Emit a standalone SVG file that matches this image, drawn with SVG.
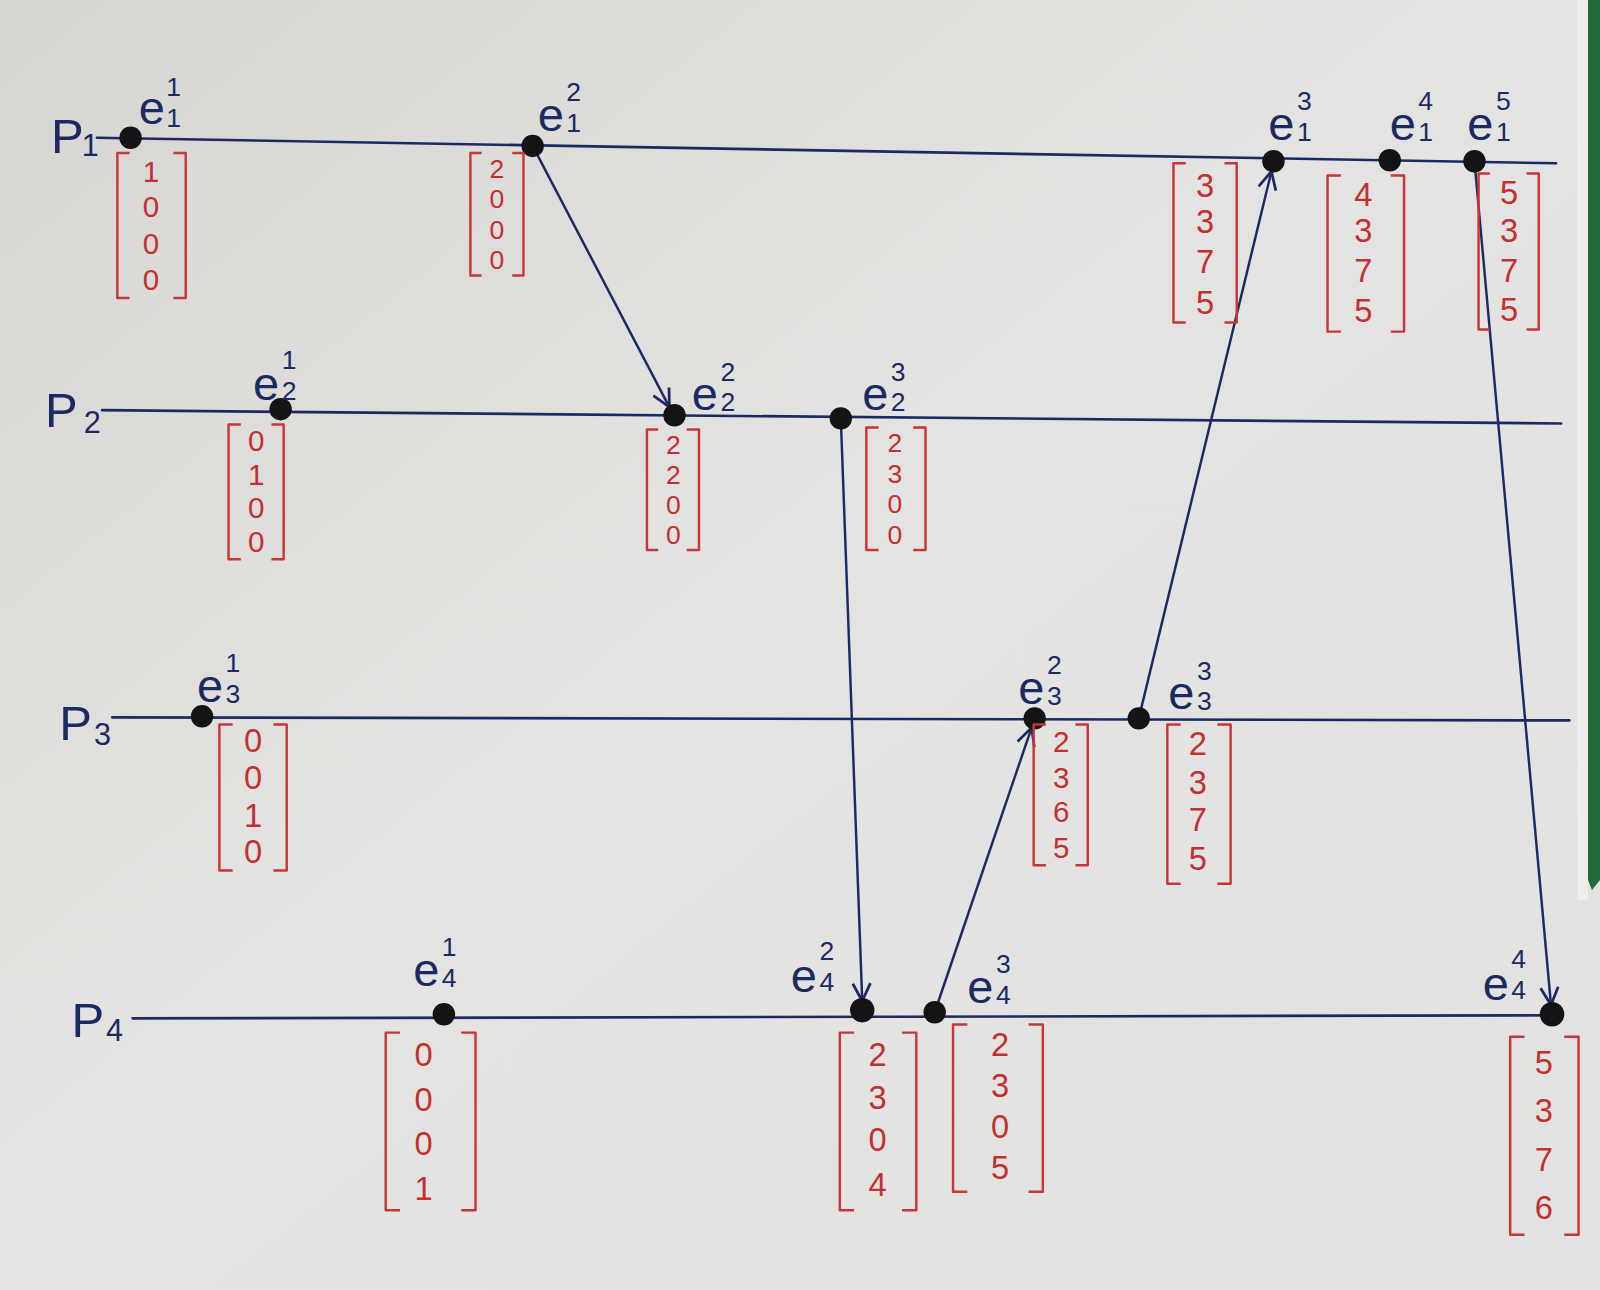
<svg xmlns="http://www.w3.org/2000/svg" width="1600" height="1290" viewBox="0 0 1600 1290">
<defs>
<linearGradient id="paper" x1="0" y1="0" x2="1" y2="1">
<stop offset="0" stop-color="#d6d5d2"/>
<stop offset="0.45" stop-color="#e3e3e1"/>
<stop offset="1" stop-color="#e2e2e0"/>
</linearGradient>
<marker id="arr" viewBox="0 0 20 20" refX="18" refY="10" markerWidth="9" markerHeight="9" markerUnits="strokeWidth" orient="auto">
<path d="M2,2 L18,10 L2,18" fill="none" stroke="#1b2a63" stroke-width="2.5"/>
</marker>
<style>
.tl{stroke:#1b2a63;stroke-width:2.6;fill:none;stroke-linecap:round}
.msg{stroke:#1b2a63;stroke-width:2.4;fill:none;marker-end:url(#arr)}
.dot{fill:#141414}
.br{stroke:#c8363a;stroke-width:2.4;fill:none;stroke-linejoin:round}
.v{font-family:"Liberation Sans",Arial,sans-serif;font-size:32px;fill:#c42f30;text-anchor:middle}
.vs{font-family:"Liberation Sans",Arial,sans-serif;font-size:26px;fill:#c42f30;text-anchor:middle}
.vm{font-family:"Liberation Sans",Arial,sans-serif;font-size:29px;fill:#c42f30;text-anchor:middle}
.e{font-family:"Liberation Sans",Arial,sans-serif;font-size:46px;fill:#1b2a63}
.s{font-family:"Liberation Sans",Arial,sans-serif;font-size:26px;fill:#1b2a63}
.p{font-family:"Liberation Sans",Arial,sans-serif;font-size:48px;fill:#1b2a63}
.ps{font-family:"Liberation Sans",Arial,sans-serif;font-size:30px;fill:#1b2a63}
</style>
</defs>
<rect x="0" y="0" width="1600" height="1290" fill="url(#paper)"/>
<rect x="1577" y="0" width="11" height="900" fill="#eeeeec"/>
<polygon points="1588,0 1600,0 1600,880 1592,890 1588,880" fill="#1f6b3a"/>
<g transform="scale(1.0204)">
<g id="timelines">
<path class="tl" d="M95,135 L1525,160"/>
<path class="tl" d="M100,402 L1530,415"/>
<path class="tl" d="M110,703 L1538,706"/>
<path class="tl" d="M130,998 L1530,995"/>
</g>
<g id="connectors">
<path class="msg" d="M522,143 L656,399"/>
<path class="msg" d="M824,410 L845,981"/>
<path class="msg" d="M916,992 L1011,713"/>
<path class="msg" d="M1116,704 L1246,168"/>
<path class="msg" d="M1445,158 L1520,985"/>
</g>
<g id="P1-label"><text class="p" x="50" y="150">P</text><text class="ps" x="80" y="153">1</text></g>
<g id="P2-label"><text class="p" x="44" y="418">P</text><text class="ps" x="82" y="424">2</text></g>
<g id="P3-label"><text class="p" x="58" y="725">P</text><text class="ps" x="92" y="730">3</text></g>
<g id="P4-label"><text class="p" x="70" y="1016">P</text><text class="ps" x="104" y="1020">4</text></g>

<g id="e1-1"><circle class="dot" cx="128" cy="135" r="11"/><text class="e" x="136" y="122">e</text><text class="s" x="163" y="94">1</text><text class="s" x="163" y="124">1</text>
<path class="br" d="M127,150 H115 V292 H127 M170,150 H182 V292 H170"/><text class="vm" x="148" y="178">1</text><text class="vm" x="148" y="213">0</text><text class="vm" x="148" y="249">0</text><text class="vm" x="148" y="284">0</text></g>
<g id="e1-2"><circle class="dot" cx="522" cy="143" r="11"/><text class="e" x="527" y="128">e</text><text class="s" x="555" y="99">2</text><text class="s" x="555" y="129">1</text>
<path class="br" d="M472,150 H461 V270 H472 M502,150 H513 V270 H502"/><text class="vs" x="487" y="174">2</text><text class="vs" x="487" y="204">0</text><text class="vs" x="487" y="234">0</text><text class="vs" x="487" y="264">0</text></g>
<g id="e1-3"><circle class="dot" cx="1248" cy="158" r="11"/><text class="e" x="1243" y="137">e</text><text class="s" x="1271" y="108">3</text><text class="s" x="1271" y="138">1</text>
<path class="br" d="M1162,160 H1150 V316 H1162 M1200,160 H1212 V316 H1200"/><text class="v" x="1181" y="193">3</text><text class="v" x="1181" y="228">3</text><text class="v" x="1181" y="268">7</text><text class="v" x="1181" y="308">5</text></g>
<g id="e1-4"><circle class="dot" cx="1362" cy="157" r="11"/><text class="e" x="1362" y="137">e</text><text class="s" x="1390" y="108">4</text><text class="s" x="1390" y="138">1</text>
<path class="br" d="M1314,172 H1301 V325 H1314 M1363,172 H1376 V325 H1363"/><text class="v" x="1336" y="202">4</text><text class="v" x="1336" y="237">3</text><text class="v" x="1336" y="276">7</text><text class="v" x="1336" y="316">5</text></g>
<g id="e1-5"><circle class="dot" cx="1445" cy="158" r="11"/><text class="e" x="1438" y="137">e</text><text class="s" x="1466" y="108">5</text><text class="s" x="1466" y="138">1</text>
<path class="br" d="M1460,170 H1449 V323 H1460 M1496,170 H1508 V323 H1496"/><text class="v" x="1479" y="200">5</text><text class="v" x="1479" y="237">3</text><text class="v" x="1479" y="276">7</text><text class="v" x="1479" y="315">5</text></g>

<g id="e2-1"><circle class="dot" cx="275" cy="401" r="11"/><text class="e" x="248" y="392">e</text><text class="s" x="276" y="362">1</text><text class="s" x="276" y="392">2</text>
<path class="br" d="M236,416 H224 V548 H236 M266,416 H278 V548 H266"/><text class="vm" x="251" y="442">0</text><text class="vm" x="251" y="475">1</text><text class="vm" x="251" y="508">0</text><text class="vm" x="251" y="541">0</text></g>
<g id="e2-2"><circle class="dot" cx="661" cy="407" r="11"/><text class="e" x="678" y="402">e</text><text class="s" x="706" y="373">2</text><text class="s" x="706" y="403">2</text>
<path class="br" d="M645,421 H634 V539 H645 M673,421 H685 V539 H673"/><text class="vs" x="660" y="445">2</text><text class="vs" x="660" y="474">2</text><text class="vs" x="660" y="504">0</text><text class="vs" x="660" y="533">0</text></g>
<g id="e2-3"><circle class="dot" cx="824" cy="410" r="11"/><text class="e" x="845" y="402">e</text><text class="s" x="873" y="373">3</text><text class="s" x="873" y="403">2</text>
<path class="br" d="M861,419 H849 V539 H861 M895,419 H907 V539 H895"/><text class="vs" x="877" y="443">2</text><text class="vs" x="877" y="473">3</text><text class="vs" x="877" y="503">0</text><text class="vs" x="877" y="533">0</text></g>

<g id="e3-1"><circle class="dot" cx="198" cy="702" r="11"/><text class="e" x="193" y="688">e</text><text class="s" x="221" y="659">1</text><text class="s" x="221" y="689">3</text>
<path class="br" d="M228,710 H215 V853 H228 M268,710 H281 V853 H268"/><text class="v" x="248" y="737">0</text><text class="v" x="248" y="773">0</text><text class="v" x="248" y="810">1</text><text class="v" x="248" y="846">0</text></g>
<g id="e3-2"><circle class="dot" cx="1014" cy="704" r="11"/><text class="e" x="998" y="690">e</text><text class="s" x="1026" y="661">2</text><text class="s" x="1026" y="691">3</text>
<path class="br" d="M1025,710 H1013 V848 H1025 M1054,710 H1066 V848 H1054"/><text class="vm" x="1040" y="737">2</text><text class="vm" x="1040" y="772">3</text><text class="vm" x="1040" y="806">6</text><text class="vm" x="1040" y="841">5</text></g>
<g id="e3-3"><circle class="dot" cx="1116" cy="704" r="11"/><text class="e" x="1145" y="695">e</text><text class="s" x="1173" y="666">3</text><text class="s" x="1173" y="696">3</text>
<path class="br" d="M1157,710 H1144 V866 H1157 M1193,710 H1206 V866 H1193"/><text class="v" x="1174" y="740">2</text><text class="v" x="1174" y="778">3</text><text class="v" x="1174" y="814">7</text><text class="v" x="1174" y="853">5</text></g>

<g id="e4-1"><circle class="dot" cx="435" cy="994" r="11"/><text class="e" x="405" y="966">e</text><text class="s" x="433" y="937">1</text><text class="s" x="433" y="967">4</text>
<path class="br" d="M392,1012 H378 V1186 H392 M452,1012 H466 V1186 H452"/><text class="v" x="415" y="1045">0</text><text class="v" x="415" y="1089">0</text><text class="v" x="415" y="1132">0</text><text class="v" x="415" y="1176">1</text></g>
<g id="e4-2"><circle class="dot" cx="845" cy="990" r="12"/><text class="e" x="775" y="972">e</text><text class="s" x="803" y="941">2</text><text class="s" x="803" y="971">4</text>
<path class="br" d="M837,1012 H823 V1186 H837 M884,1012 H898 V1186 H884"/><text class="v" x="860" y="1045">2</text><text class="v" x="860" y="1087">3</text><text class="v" x="860" y="1128">0</text><text class="v" x="860" y="1172">4</text></g>
<g id="e4-3"><circle class="dot" cx="916" cy="992" r="11"/><text class="e" x="948" y="983">e</text><text class="s" x="976" y="954">3</text><text class="s" x="976" y="984">4</text>
<path class="br" d="M948,1004 H934 V1168 H948 M1008,1004 H1022 V1168 H1008"/><text class="v" x="980" y="1035">2</text><text class="v" x="980" y="1075">3</text><text class="v" x="980" y="1115">0</text><text class="v" x="980" y="1155">5</text></g>
<g id="e4-4"><circle class="dot" cx="1521" cy="994" r="12"/><text class="e" x="1453" y="980">e</text><text class="s" x="1481" y="949">4</text><text class="s" x="1481" y="979">4</text>
<path class="br" d="M1494,1016 H1480 V1210 H1494 M1533,1016 H1547 V1210 H1533"/><text class="v" x="1513" y="1053">5</text><text class="v" x="1513" y="1100">3</text><text class="v" x="1513" y="1148">7</text><text class="v" x="1513" y="1195">6</text></g>
</g>
</svg>
